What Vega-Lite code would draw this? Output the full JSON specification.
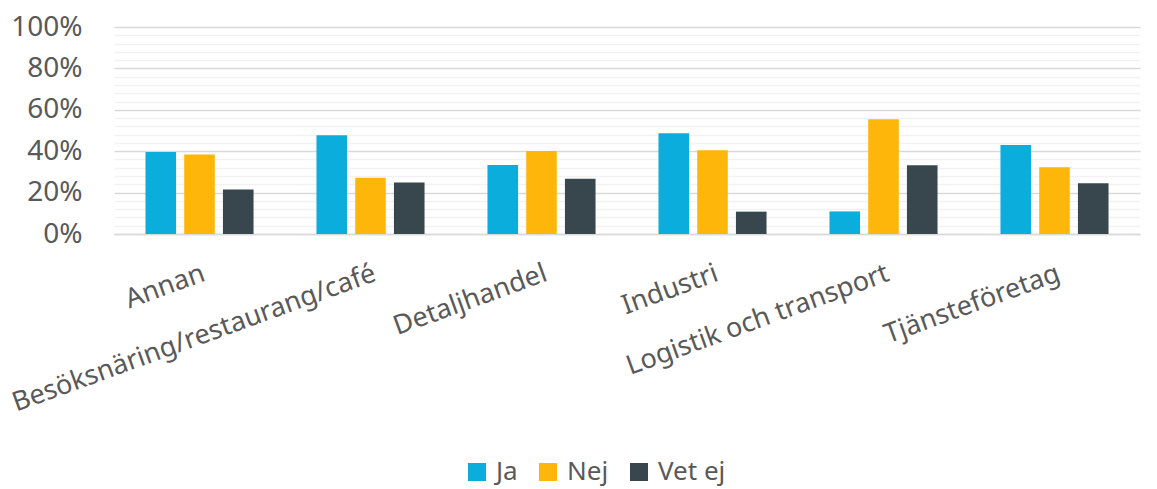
{
  "$schema": "https://vega.github.io/schema/vega-lite/v6.json",
  "width": 1026,
  "height": 207,
  "autosize": "none",
  "padding": {"left": 114, "top": 27, "right": 17, "bottom": 255},
  "background": "white",
  "config": {
    "view": {"stroke": null},
    "font": "Noto Sans"
  },
  "data": {
    "values": [
      {"bransch": "Annan", "svar": "Ja", "andel": 0.396},
      {"bransch": "Annan", "svar": "Nej", "andel": 0.384},
      {"bransch": "Annan", "svar": "Vet ej", "andel": 0.215},
      {"bransch": "Besöksnäring/restaurang/café", "svar": "Ja", "andel": 0.477},
      {"bransch": "Besöksnäring/restaurang/café", "svar": "Nej", "andel": 0.272},
      {"bransch": "Besöksnäring/restaurang/café", "svar": "Vet ej", "andel": 0.249},
      {"bransch": "Detaljhandel", "svar": "Ja", "andel": 0.333},
      {"bransch": "Detaljhandel", "svar": "Nej", "andel": 0.401},
      {"bransch": "Detaljhandel", "svar": "Vet ej", "andel": 0.267},
      {"bransch": "Industri", "svar": "Ja", "andel": 0.487},
      {"bransch": "Industri", "svar": "Nej", "andel": 0.404},
      {"bransch": "Industri", "svar": "Vet ej", "andel": 0.108},
      {"bransch": "Logistik och transport", "svar": "Ja", "andel": 0.109},
      {"bransch": "Logistik och transport", "svar": "Nej", "andel": 0.554},
      {"bransch": "Logistik och transport", "svar": "Vet ej", "andel": 0.332},
      {"bransch": "Tjänsteföretag", "svar": "Ja", "andel": 0.43},
      {"bransch": "Tjänsteföretag", "svar": "Nej", "andel": 0.323},
      {"bransch": "Tjänsteföretag", "svar": "Vet ej", "andel": 0.245}
    ]
  },
  "mark": {"type": "bar"},
  "encoding": {
    "x": {
      "field": "bransch",
      "type": "nominal",
      "sort": null,
      "title": null,
      "scale": {"paddingInner": 0.368, "paddingOuter": 0.184},
      "axis": {
        "labelAngle": -20,
        "labelFontSize": 27,
        "labelColor": "#595959",
        "labelPadding": 26,
        "ticks": false,
        "domainColor": "#d9d9d9",
        "domainWidth": 1.5,
        "labelLimit": 600
      }
    },
    "xOffset": {
      "field": "svar",
      "type": "nominal",
      "sort": ["Ja", "Nej", "Vet ej"],
      "scale": {"paddingInner": 0.21, "paddingOuter": 0}
    },
    "y": {
      "field": "andel",
      "type": "quantitative",
      "title": null,
      "scale": {"domain": [0, 1]},
      "axis": {
        "values": [0, 0.04, 0.08, 0.12, 0.16, 0.2, 0.24, 0.28, 0.32, 0.36, 0.4, 0.44, 0.48, 0.52, 0.56, 0.6, 0.64, 0.68, 0.72, 0.76, 0.8, 0.84, 0.88, 0.92, 0.96, 1],
        "format": ".0%",
        "labelExpr": "round(datum.value*100) % 20 === 0 ? datum.label : ''",
        "labelFontSize": 28,
        "labelColor": "#595959",
        "labelPadding": 32,
        "ticks": false,
        "domain": false,
        "grid": true,
        "gridWidth": 1.5,
        "gridColor": {"condition": {"test": "round(datum.value*100) % 20 === 0", "value": "#d9d9d9"}, "value": "#f2f2f2"}
      }
    },
    "color": {
      "field": "svar",
      "type": "nominal",
      "sort": ["Ja", "Nej", "Vet ej"],
      "scale": {"domain": ["Ja", "Nej", "Vet ej"], "range": ["#0aaddb", "#ffb60a", "#37474d"]},
      "legend": {
        "title": null,
        "orient": "none",
        "direction": "horizontal",
        "legendX": 350,
        "legendY": 432,
        "symbolType": "square",
        "symbolSize": 324,
        "symbolStrokeWidth": 0,
        "labelFontSize": 26,
        "labelColor": "#595959",
        "labelOffset": 6,
        "columnPadding": 17,
        "padding": 0
      }
    }
  }
}
